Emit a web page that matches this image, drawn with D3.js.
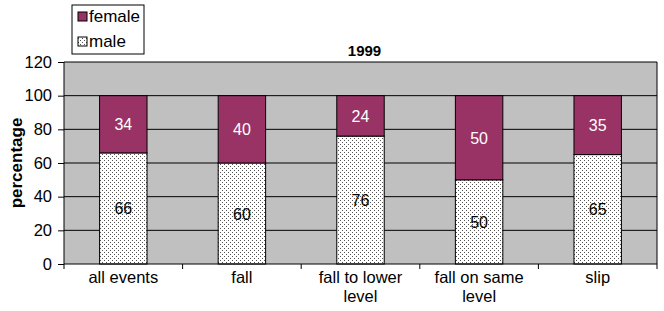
<!DOCTYPE html>
<html><head><meta charset="utf-8">
<script src="https://cdn.jsdelivr.net/npm/d3@7"></script>
<style>body{margin:0;background:#fff;}svg{display:block;font-family:"Liberation Sans",Arial,sans-serif;}</style>
</head><body>
<script>
const categories = [["all events"],["fall"],["fall to lower","level"],["fall on same","level"],["slip"]];
const male = [66,60,76,50,65];
const female = [34,40,24,50,35];
const yTicks = [0,20,40,60,80,100,120];
const title = "1999";
const yLabel = "percentage";

const W=664,H=311;
const m={l:64,r:7,t:62,b:47};
const svg=d3.select("body").append("svg").attr("width",W).attr("height",H);
const defs=svg.append("defs");
const pat=defs.append("pattern").attr("id","dots").attr("patternUnits","userSpaceOnUse").attr("width",4).attr("height",4);
pat.append("rect").attr("width",4).attr("height",4).attr("fill","#fff");
pat.append("rect").attr("x",0).attr("y",0).attr("width",1).attr("height",1).attr("fill","#555");
pat.append("rect").attr("x",2).attr("y",2).attr("width",1).attr("height",1).attr("fill","#555");

const pw=W-m.l-m.r, ph=H-m.t-m.b;
const idx=d3.range(categories.length);
const x=d3.scaleBand().domain(idx).range([m.l,m.l+pw]).paddingInner(0.6).paddingOuter(0.3);
const y=d3.scaleLinear().domain([0,120]).range([m.t+ph,m.t]);

svg.append("rect").attr("x",m.l).attr("y",m.t).attr("width",pw).attr("height",ph).attr("fill","#c0c0c0");
svg.append("g").selectAll("line").data(yTicks.filter(d=>d>0)).join("line")
 .attr("x1",m.l).attr("x2",m.l+pw).attr("y1",d=>y(d)).attr("y2",d=>y(d)).attr("stroke","#000").attr("stroke-width",1);
svg.append("line").attr("x1",m.l+pw).attr("x2",m.l+pw).attr("y1",m.t).attr("y2",m.t+ph).attr("stroke","#000");

// bars
const g=svg.append("g");
g.selectAll("rect.m").data(idx).join("rect").attr("class","m")
 .attr("x",i=>x(i)).attr("width",x.bandwidth()).attr("y",i=>y(male[i])).attr("height",i=>y(0)-y(male[i]))
 .attr("fill","url(#dots)").attr("stroke","#000").attr("stroke-width",1);
g.selectAll("rect.f").data(idx).join("rect").attr("class","f")
 .attr("x",i=>x(i)).attr("width",x.bandwidth()).attr("y",i=>y(male[i]+female[i])).attr("height",i=>y(male[i])-y(male[i]+female[i]))
 .attr("fill","#993366").attr("stroke","#000").attr("stroke-width",1);
g.selectAll("text.m").data(idx).join("text")
 .attr("x",i=>x(i)+x.bandwidth()/2).attr("y",i=>y(male[i]/2)+6).attr("text-anchor","middle").attr("font-size",16).attr("fill","#000").text(i=>male[i]);
g.selectAll("text.f").data(idx).join("text")
 .attr("x",i=>x(i)+x.bandwidth()/2).attr("y",i=>y(male[i]+female[i]/2)+6).attr("text-anchor","middle").attr("font-size",16).attr("fill","#fff").text(i=>female[i]);

// y axis
const ya=svg.append("g").attr("transform",`translate(${m.l},0)`).call(d3.axisLeft(y).tickValues(yTicks).tickSize(6).tickPadding(6));
ya.selectAll("text").attr("font-size",16.5).attr("fill","#000").style("font-family","Liberation Sans, Arial, sans-serif");
ya.selectAll("line,path").attr("stroke","#000");
ya.select(".domain").attr("d",`M0,${m.t}V${m.t+ph}`);

// x axis
const xb=svg.append("g").attr("transform",`translate(0,${m.t+ph})`);
xb.append("line").attr("x1",m.l).attr("x2",m.l+pw).attr("stroke","#000");
const step=pw/categories.length;
xb.selectAll("line.t").data(d3.range(categories.length+1)).join("line").attr("class","t")
 .attr("x1",i=>m.l+i*step).attr("x2",i=>m.l+i*step).attr("y1",0).attr("y2",5).attr("stroke","#000");
const xl=xb.selectAll("text").data(idx).join("text").attr("text-anchor","middle").attr("font-size",16.5).attr("fill","#000")
 .attr("x",i=>x(i)+x.bandwidth()/2).attr("y",19);
xl.selectAll("tspan").data(i=>categories[i].map(s=>({s,i}))).join("tspan")
 .attr("x",d=>x(d.i)+x.bandwidth()/2).attr("dy",(d,k)=>k?19:0).text(d=>d.s);

// title
svg.append("text").attr("x",m.l+pw/2+4).attr("y",56).attr("text-anchor","middle").attr("font-size",15).attr("font-weight","bold").text(title);
svg.append("text").attr("transform",`translate(22,${m.t+ph/2}) rotate(-90)`).attr("text-anchor","middle").attr("font-size",17).attr("font-weight","bold").text(yLabel);

// legend
const lg=svg.append("g");
lg.append("rect").attr("x",72).attr("y",5).attr("width",72).attr("height",49).attr("fill","#fff").attr("stroke","#000");
lg.append("rect").attr("x",78).attr("y",12).attr("width",9).attr("height",9).attr("fill","#993366").attr("stroke","#000");
lg.append("rect").attr("x",78).attr("y",37).attr("width",9).attr("height",9).attr("fill","url(#dots)").attr("stroke","#000");
lg.append("text").attr("x",89).attr("y",22).attr("font-size",17).text("female");
lg.append("text").attr("x",89).attr("y",47).attr("font-size",17).text("male");
</script>
</body></html>
